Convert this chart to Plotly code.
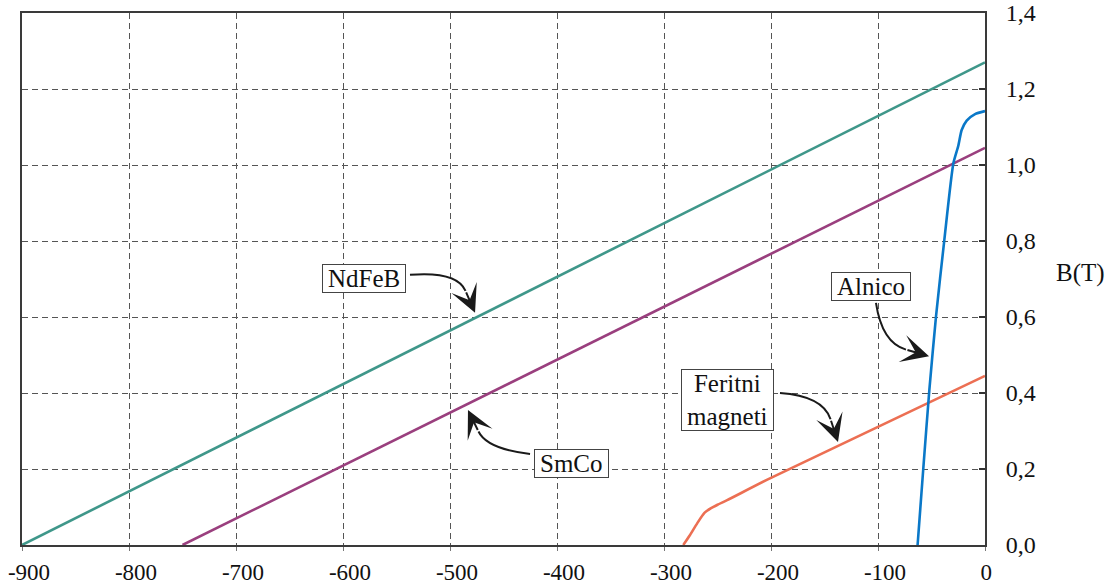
import math
import plotly.graph_objects as go

# ---- data ----
x_ticks = [-900, -800, -700, -600, -500, -400, -300, -200, -100, 0]
x_labels = ["-900", "-800", "-700", "-600", "-500", "-400", "-300", "-200", "-100", "0\u2007"]
y_ticks = [0.0, 0.2, 0.4, 0.6, 0.8, 1.0, 1.2, 1.4]

ndfeb_H = [-900, 0]
ndfeb_B = [0.0, 1.27]

smco_H = [-750, 0]
smco_B = [0.0, 1.045]

ferrite_H = [-282, -276, -269, -262, -256, -250, -241, -201, 0]
ferrite_B = [0.0, 0.025, 0.057, 0.085, 0.097, 0.106, 0.118, 0.1755, 0.445]

alnico_H = [-63, -57.7, -52, -45.8, -38, -29.6, -25, -21.8, -17.1, -9.3, 0]
alnico_B = [0.0, 0.2, 0.408, 0.601, 0.803, 1.004, 1.05, 1.092, 1.117, 1.134, 1.142]

FONT = "Liberation Serif"
TS = "\u2009"

fig = go.Figure()
fig.add_trace(go.Scatter(x=ndfeb_H, y=ndfeb_B, mode="lines",
                         line=dict(color="#3f978a", width=2.6), showlegend=False))
fig.add_trace(go.Scatter(x=smco_H, y=smco_B, mode="lines",
                         line=dict(color="#9a3f7e", width=2.6), showlegend=False))
fig.add_trace(go.Scatter(x=ferrite_H, y=ferrite_B, mode="lines",
                         line=dict(color="#ec6f53", width=2.6, shape="spline", smoothing=0.6),
                         showlegend=False))
fig.add_trace(go.Scatter(x=alnico_H, y=alnico_B, mode="lines",
                         line=dict(color="#0a78c8", width=2.6, shape="spline", smoothing=0.6),
                         showlegend=False))

# ---- labels with curved arrows ----
labels = [
    dict(text="NdFeB", x=-580.4, y=0.7026, start=(-537.4, 0.711), ctrl=(-493.5, 0.721), tip=(-476.6, 0.611)),
    dict(text="SmCo", x=-386.9, y=0.2158, start=(-425.2, 0.2395), ctrl=(-465.4, 0.2526), tip=(-483.2, 0.3553)),
    dict(text="Feritni<br>magneti", x=-240.2, y=0.3816, start=(-191.6, 0.400), ctrl=(-151.4, 0.392), tip=(-137.4, 0.271)),
    dict(text="Alnico", x=-106.5, y=0.679, start=(-101.9, 0.637), ctrl=(-96.3, 0.532), tip=(-52.3, 0.497)),
]

sx = 963 / 900.0
sy = 532 / 1.4
L = 24
annotations = []
shapes = []
for lb in labels:
    txt = "<br>".join(TS + part + TS for part in lb["text"].split("<br>"))
    annotations.append(dict(
        x=lb["x"], y=lb["y"], xref="x", yref="y", text=txt, showarrow=False,
        font=dict(family=FONT, size=25, color="#111"),
        bgcolor="white", bordercolor="#444", borderwidth=1, borderpad=0,
    ))
    (sx0, sy0), (cx, cy), (tx, ty) = lb["start"], lb["ctrl"], lb["tip"]
    dxp = (tx - cx) * sx
    dyp = -(ty - cy) * sy
    n = math.hypot(dxp, dyp)
    ux, uy = dxp / n, dyp / n
    ax, ay = -ux * L, -uy * L
    ex, ey = tx + ax / sx, ty - ay / sy
    shapes.append(dict(
        type="path", xref="x", yref="y",
        path=f"M {sx0},{sy0} Q {cx},{cy} {ex},{ey}",
        line=dict(color="#1a1a1a", width=2), layer="above",
    ))
    annotations.append(dict(
        x=tx, y=ty, xref="x", yref="y", text="", showarrow=True,
        ax=ax, ay=ay, axref="pixel", ayref="pixel",
        arrowhead=3, arrowsize=2.3, arrowwidth=2, arrowcolor="#1a1a1a",
    ))

annotations.append(dict(
    x=(1080 - 22) / 963, y=(545 - 273) / 532, xref="paper", yref="paper",
    text="B(T)", showarrow=False, xanchor="center", yanchor="middle",
    font=dict(family=FONT, size=25, color="#111"),
))

fig.update_layout(
    width=1113, height=587,
    margin=dict(l=22, r=128, t=13, b=42, autoexpand=False),
    plot_bgcolor="white", paper_bgcolor="white",
    separators=",.",
    font=dict(family=FONT, size=24, color="#111"),
    annotations=annotations, shapes=shapes,
    showlegend=False,
)
fig.update_xaxes(
    range=[-900, 0], tickvals=x_ticks, ticktext=x_labels, automargin=False,
    showgrid=True, gridcolor="#555", gridwidth=1, griddash="6px,4px",
    showline=True, mirror=True, linecolor="#3a3a3a", linewidth=2,
    ticks="outside", ticklen=4, tickcolor="#777", tickwidth=1,
    ticklabelstandoff=1, ticklabelshift=7,
    zeroline=False, tickfont=dict(family=FONT, size=23, color="#111"),
)
fig.update_yaxes(
    range=[0, 1.4], tickvals=y_ticks, tickformat=".1f", side="right", automargin=False,
    showgrid=True, gridcolor="#555", gridwidth=1, griddash="6px,4px",
    showline=True, mirror=True, linecolor="#3a3a3a", linewidth=2,
    ticks="inside", ticklen=6, tickcolor="#333", tickwidth=1.5,
    ticklabelstandoff=14,
    zeroline=False, tickfont=dict(family=FONT, size=24, color="#111"),
)

fig.write_html("out.html")
